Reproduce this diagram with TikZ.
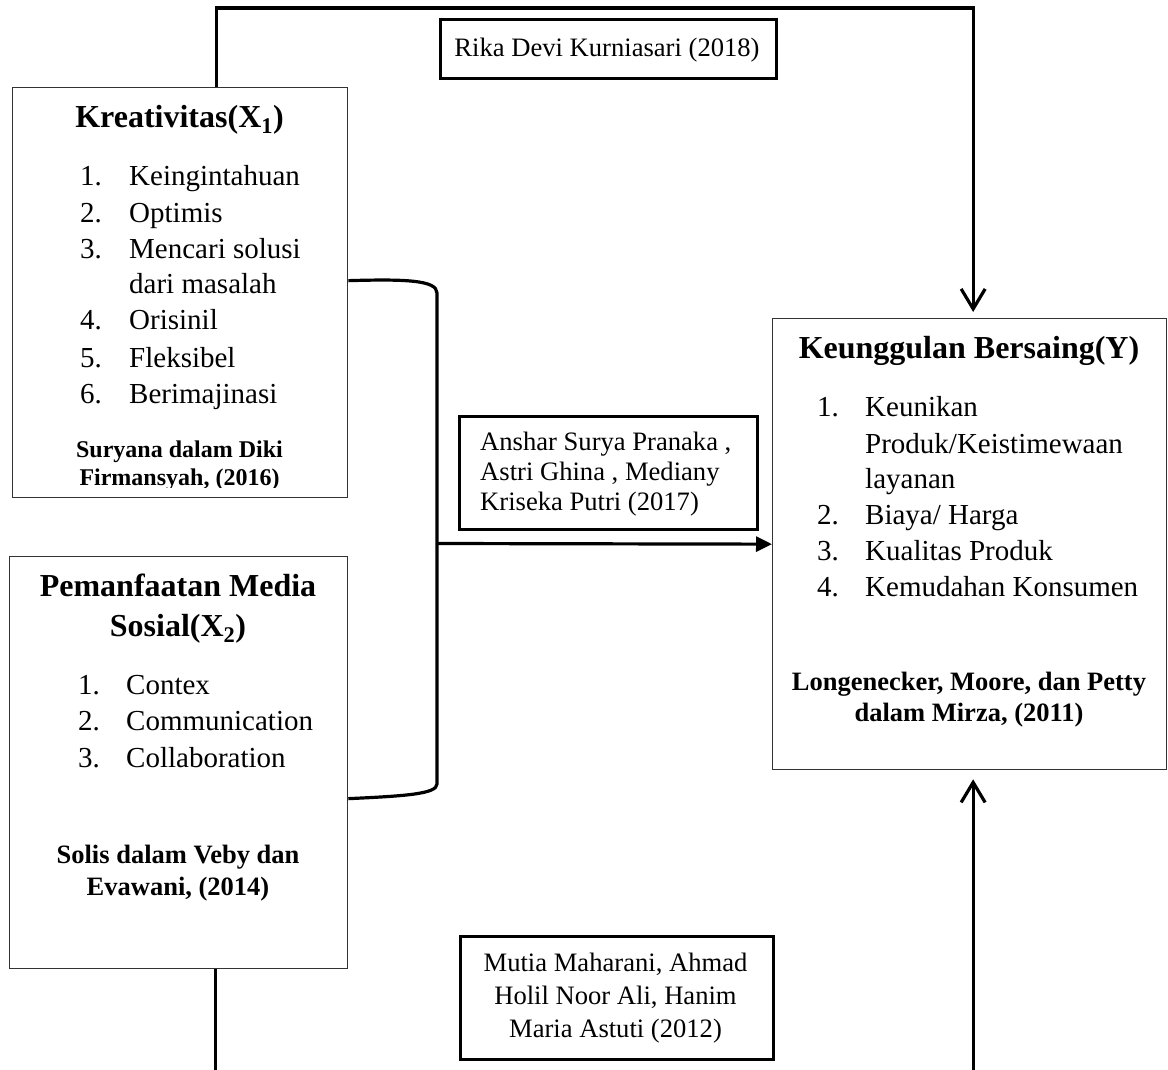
\documentclass[tikz,border=0pt]{standalone}
\usepackage{fontspec}
\setmainfont{Liberation Serif}
\usetikzlibrary{arrows.meta,calc}
\begin{document}
\begin{tikzpicture}[x=1pt,y=-1pt,
  box/.style={draw=black!80, line width=1.3pt, rectangle, inner sep=0pt, anchor=north west},
  cbox/.style={draw=black, line width=2.6pt, rectangle, inner sep=0pt, anchor=north west},
  conn/.style={line width=3.2pt},
  txt/.style={inner sep=0pt, anchor=base west, font=\fontsize{29}{36}\selectfont},
  ttl/.style={inner sep=0pt, anchor=base, font=\fontsize{32}{38}\selectfont\bfseries},
  cit/.style={inner sep=0pt, anchor=base, font=\fontsize{26.5}{32}\selectfont\bfseries},
  citsm/.style={inner sep=0pt, anchor=base, font=\fontsize{24}{30}\selectfont\bfseries},
  reft/.style={inner sep=0pt, font=\fontsize{26.6}{32}\selectfont},
  barb/.style={-{Straight Barb[length=20pt,width=24pt]}},
  tri/.style={-{Triangle[length=16pt,width=15pt]}}
]
\useasboundingbox (0,0) rectangle (1168,1069);
\begin{scope}
\clip (0,0) rectangle (1168,1069);

% boxes
\node[box, minimum width=335pt, minimum height=410pt] (box1) at (12,87) {};
\node[box, minimum width=338pt, minimum height=412pt] (box2) at (9,556) {};
\node[box, minimum width=394pt, minimum height=451pt] (ybox) at (772,318) {};
\node[cbox, minimum width=336pt, minimum height=59pt] (rika) at (439,18) {};
\node[cbox, minimum width=298pt, minimum height=113pt] (anshar) at (458,415) {};
\node[cbox, minimum width=313pt, minimum height=123pt] (mutia) at (459,935) {};

% box 1 text
\node[ttl] (t1) at (179.5,127) {Kreativitas(X\textsubscript{1})};
\node[txt] (n11) at (80,185) {1.};
\node[txt] (i11) at (129,185) {Keingintahuan};
\node[txt] (n12) at (80,222) {2.};
\node[txt] (i12) at (129,222) {Optimis};
\node[txt] (n13) at (80,258) {3.};
\node[txt] (i13) at (129,258) {Mencari solusi};
\node[txt] (i13b) at (129,293) {dari masalah};
\node[txt] (n14) at (80,329) {4.};
\node[txt] (i14) at (129,329) {Orisinil};
\node[txt] (n15) at (80,367) {5.};
\node[txt] (i15) at (129,367) {Fleksibel};
\node[txt] (n16) at (80,403) {6.};
\node[txt] (i16) at (129,403) {Berimajinasi};
\node[citsm] (c1a) at (179.5,457) {Suryana dalam Diki};
\begin{scope}
\clip (12,87) rectangle (347,487.5);
\node[citsm] (c1b) at (179.5,485) {Firmansyah, (2016)};
\end{scope}

% box 2 text
\node[ttl] (t2a) at (178,596) {Pemanfaatan Media};
\node[ttl] (t2b) at (178,636) {Sosial(X\textsubscript{2})};
\node[txt] (n21) at (78,694) {1.};
\node[txt] (i21) at (126,694) {Contex};
\node[txt] (n22) at (78,730) {2.};
\node[txt] (i22) at (126,730) {Communication};
\node[txt] (n23) at (78,767) {3.};
\node[txt] (i23) at (126,767) {Collaboration};
\node[cit] (c2a) at (178,863) {Solis dalam Veby dan};
\node[cit] (c2b) at (178,895) {Evawani, (2014)};

% Y box text
\node[ttl] (ty) at (969,358) {Keunggulan Bersaing(Y)};
\node[txt] (ny1) at (817,416) {1.};
\node[txt] (iy1) at (865,416) {Keunikan};
\node[txt] (iy1b) at (865,453) {Produk/Keistimewaan};
\node[txt] (iy1c) at (865,488) {layanan};
\node[txt] (ny2) at (817,524) {2.};
\node[txt] (iy2) at (865,524) {Biaya/ Harga};
\node[txt] (ny3) at (817,560) {3.};
\node[txt] (iy3) at (865,560) {Kualitas Produk};
\node[txt] (ny4) at (817,596) {4.};
\node[txt] (iy4) at (865,596) {Kemudahan Konsumen};
\node[cit] (cya) at (969,690) {Longenecker, Moore, dan Petty};
\node[cit] (cyb) at (969,721) {dalam Mirza, (2011)};

% citation boxes text
\node[reft, anchor=base] (rt) at (607,56) {Rika Devi Kurniasari (2018)};
\node[reft, anchor=base west] (a1) at (480,450) {Anshar Surya Pranaka ,};
\node[reft, anchor=base west] (a2) at (480,480) {Astri Ghina , Mediany};
\node[reft, anchor=base west] (a3) at (480,510) {Kriseka Putri (2017)};
\node[reft, anchor=base] (m1) at (615.5,971) {Mutia Maharani, Ahmad};
\node[reft, anchor=base] (m2) at (615.5,1004) {Holil Noor Ali, Hanim};
\node[reft, anchor=base] (m3) at (615.5,1037) {Maria Astuti (2012)};

% connectors
\draw[conn, barb] ([xshift=36.5pt]box1.north) -- ++(0,-79) -| ([xshift=3.5pt,yshift=6pt]ybox.north);

\coordinate (bt) at ([yshift=12pt]box1.east);
\coordinate (bb) at ([yshift=-36pt]box2.east);
\coordinate (bm) at (437,543.5);
\draw[conn] (bt) .. controls (405,279) and (437,280) .. (437,293) -- (437,784) .. controls (437,794) and (405,796) .. (bb);
\draw[conn, tri] (bm) -- (ybox.west);

\coordinate (under) at (600,1100);
\draw[conn, barb] ([xshift=37pt]box2.south) |- (under) -| ([xshift=3.5pt,yshift=-9pt]ybox.south);
\end{scope}
\end{tikzpicture}
\end{document}
